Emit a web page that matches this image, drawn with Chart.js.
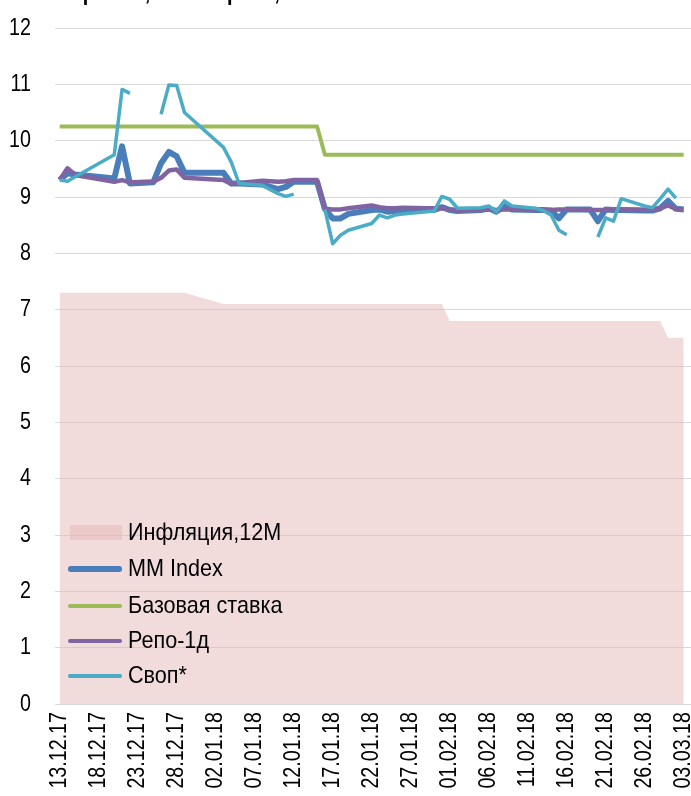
<!DOCTYPE html>
<html><head><meta charset="utf-8">
<script src="https://cdn.jsdelivr.net/npm/chart.js@4"></script>
<style>
html,body{margin:0;padding:0;background:#fff;}
#wrap{position:relative;width:691px;height:796px;overflow:hidden;background:#fff;}
#c{position:absolute;left:0;top:0;}
#title{position:absolute;left:8px;top:-19px;font:bold 22px 'Liberation Sans',Arial,sans-serif;color:#000;white-space:nowrap;line-height:24px;transform:scaleX(0.9);transform-origin:0 0;}
.lg{position:absolute;left:68px;height:30px;line-height:30px;font:24px 'Liberation Sans',Arial,sans-serif;color:#000;white-space:nowrap;}
.lg .sw{position:absolute;left:0;width:54px;}
.lg .tx{position:absolute;left:60px;top:0;transform:scaleX(0.9);transform-origin:0 50%;}
</style>
</head><body>
<div id="wrap">
<canvas id="c" width="691" height="796"></canvas>
<div id="title">Ставки рынка, ставки репо, %</div>
<div id="legend"></div>
</div>
<script>
// ---- data ----
const days = ['13.12.17','14.12.17','15.12.17','20.12.17','21.12.17','22.12.17','25.12.17','26.12.17','27.12.17','28.12.17','29.12.17',
'03.01.18','04.01.18','05.01.18','08.01.18','09.01.18','10.01.18','11.01.18','12.01.18','15.01.18','16.01.18','17.01.18','18.01.18','19.01.18','22.01.18','23.01.18','24.01.18','25.01.18','26.01.18','29.01.18','30.01.18','31.01.18',
'01.02.18','02.02.18','05.02.18','06.02.18','07.02.18','08.02.18','09.02.18','12.02.18','13.02.18','14.02.18','15.02.18','16.02.18','19.02.18','20.02.18','21.02.18','22.02.18','23.02.18','26.02.18','27.02.18','28.02.18',
'01.03.18','02.03.18','03.03.18'];

const inflation = [7.3,7.3,7.3,7.3,7.3,7.3,7.3,7.3,7.3,7.3,7.3,
7.1,7.1,7.1,7.1,7.1,7.1,7.1,7.1,7.1,7.1,7.1,7.1,7.1,7.1,7.1,7.1,7.1,7.1,7.1,7.1,7.1,
6.8,6.8,6.8,6.8,6.8,6.8,6.8,6.8,6.8,6.8,6.8,6.8,6.8,6.8,6.8,6.8,6.8,6.8,6.8,6.8,
6.5,6.5,6.5];

const mmIndex = [9.30,9.42,9.40,9.33,9.90,9.24,9.26,9.60,9.80,9.72,9.43,
9.43,9.24,9.24,9.22,9.18,9.14,9.18,9.27,9.27,8.79,8.62,8.62,8.70,8.77,8.78,8.74,8.75,8.77,8.77,8.77,8.82,
8.77,8.75,8.77,8.80,8.74,8.84,8.78,8.77,8.77,8.76,8.62,8.78,8.78,8.57,8.78,8.77,8.77,8.76,8.76,8.80,
8.93,8.79,8.78];

const baseRate = [10.25,10.25,10.25,10.25,10.25,10.25,10.25,10.25,10.25,10.25,10.25,
10.25,10.25,10.25,10.25,10.25,10.25,10.25,10.25,10.25,9.75,9.75,9.75,9.75,9.75,9.75,9.75,9.75,9.75,9.75,9.75,9.75,
9.75,9.75,9.75,9.75,9.75,9.75,9.75,9.75,9.75,9.75,9.75,9.75,9.75,9.75,9.75,9.75,9.75,9.75,9.75,9.75,
9.75,9.75,9.75];

const repo1d = [9.30,9.51,9.39,9.27,9.30,9.26,9.27,9.34,9.47,9.49,9.34,
9.30,9.23,9.25,9.29,9.28,9.27,9.28,9.30,9.30,8.79,8.78,8.78,8.80,8.85,8.82,8.80,8.80,8.81,8.80,8.80,8.80,
8.78,8.76,8.77,8.78,8.77,8.78,8.78,8.77,8.77,8.77,8.78,8.78,8.77,8.77,8.77,8.78,8.78,8.77,8.78,8.80,
8.85,8.79,8.78];

const swap = [9.30,9.28,9.36,9.75,10.91,10.84,null,10.47,10.99,10.98,10.50,
9.88,9.62,9.24,9.21,9.13,9.06,9.01,9.05,null,8.78,8.17,8.32,8.41,8.53,8.68,8.63,8.68,8.70,8.74,8.75,9.01,
8.96,8.80,8.81,8.84,8.74,8.93,8.84,8.80,8.76,8.68,8.41,8.33,null,8.29,8.63,8.57,8.97,8.84,8.81,8.97,
9.14,8.98,null];

const yTicks = [0,1,2,3,4,5,6,7,8,9,10,11,12];
const xTickStepDays = 5;
const seriesNames = ['Инфляция,12M','MM Index','Базовая ставка','Репо-1д','Своп*'];
// ---------------

const t0 = Date.UTC(2017,11,13);
function dayIndex(s){const p=s.split('.');return Math.round((Date.UTC(2000+ +p[2],+p[1]-1,+p[0])-t0)/86400000);}
function fmt(i){const d=new Date(t0+i*86400000);const dd=String(d.getUTCDate()).padStart(2,'0');const mm=String(d.getUTCMonth()+1).padStart(2,'0');const yy=String(d.getUTCFullYear()%100).padStart(2,'0');return dd+'.'+mm+'.'+yy;}
const xs = days.map(dayIndex);
const lastX = xs[xs.length-1];
function pts(arr){return arr.map((v,i)=>({x:xs[i],y:v}));}

const colors = {infl:'rgba(230,184,183,0.5)', mm:'#4A7EBB', base:'#9BBB59', repo:'#8064A2', swap:'#4BACC6'};
const FONT = "'Liberation Sans',Arial,sans-serif";

// condense canvas text horizontally (narrow-font look)
const narrowText = {
  id:'narrowText',
  beforeDraw(chart){
    const ctx = chart.ctx;
    if(ctx.__narrow) return;
    const orig = ctx.fillText.bind(ctx);
    ctx.fillText = function(t,x,y,mw){
      const w = ctx.measureText(t).width*0.82;
      return orig(t,x,y,mw!==undefined?Math.min(mw,w):w);
    };
    ctx.__narrow = true;
  }
};

new Chart(document.getElementById('c'),{
  type:'line',
  plugins:[narrowText],
  data:{datasets:[
    {label:seriesNames[4],data:pts(swap),borderColor:colors.swap,borderWidth:3.5,pointRadius:0,spanGaps:false,order:1},
    {label:seriesNames[3],data:pts(repo1d),borderColor:colors.repo,borderWidth:4.5,pointRadius:0,order:2},
    {label:seriesNames[2],data:pts(baseRate),borderColor:colors.base,borderWidth:4,pointRadius:0,order:3},
    {label:seriesNames[1],data:pts(mmIndex),borderColor:colors.mm,borderWidth:6,pointRadius:0,order:4},
    {label:seriesNames[0],data:pts(inflation),borderColor:'rgba(0,0,0,0)',borderWidth:0,backgroundColor:colors.infl,fill:'origin',pointRadius:0,order:5}
  ]},
  options:{
    responsive:false,animation:false,
    layout:{padding:{top:28,bottom:0,left:0,right:0}},
    elements:{line:{tension:0,borderJoinStyle:'round',borderCapStyle:'butt'}},
    plugins:{legend:{display:false},tooltip:{enabled:false},title:{display:false}},
    scales:{
      x:{type:'linear',min:-0.6,max:lastX+0.94,
        grid:{display:false,drawTicks:false},border:{display:false},
        afterBuildTicks:s=>{const t=[];for(let v=0;v<=lastX;v+=xTickStepDays)t.push({value:v});s.ticks=t;},
        afterFit:s=>{s.paddingLeft=0;s.paddingRight=0;s.height=92;},
        ticks:{autoSkip:false,maxRotation:90,minRotation:90,padding:8,color:'#000',font:{family:FONT,size:24},callback:v=>fmt(v)}
      },
      y:{min:0,max:12,
        afterBuildTicks:s=>{s.ticks=yTicks.map(v=>({value:v}));},
        afterFit:s=>{s.width=55;s.paddingTop=0;s.paddingBottom=0;},
        grid:{color:'#d9d9d9',lineWidth:1,drawTicks:false},border:{display:false},
        ticks:{padding:24,color:'#000',font:{family:FONT,size:24}}
      }
    }
  }
});

// legend
const lgItems = [
  {name:seriesNames[0],type:'box',color:colors.infl,top:518},
  {name:seriesNames[1],type:'line',color:colors.mm,w:5.5,top:554},
  {name:seriesNames[2],type:'line',color:colors.base,w:3.5,top:591},
  {name:seriesNames[3],type:'line',color:colors.repo,w:4,top:626},
  {name:seriesNames[4],type:'line',color:colors.swap,w:3.5,top:661}
];
const lg=document.getElementById('legend');
lgItems.forEach(it=>{
  const d=document.createElement('div');d.className='lg';d.style.top=it.top+'px';
  const sw=document.createElement('div');sw.className='sw';
  if(it.type==='box'){sw.style.top='7px';sw.style.height='15px';sw.style.background=it.color;sw.style.left='2px';sw.style.width='52px';}
  else{sw.style.top=(15-it.w/2)+'px';sw.style.height=it.w+'px';sw.style.background=it.color;sw.style.borderRadius=(it.w/2)+'px';}
  const tx=document.createElement('span');tx.className='tx';tx.textContent=it.name;
  d.appendChild(sw);d.appendChild(tx);lg.appendChild(d);
});
</script>
</body></html>
